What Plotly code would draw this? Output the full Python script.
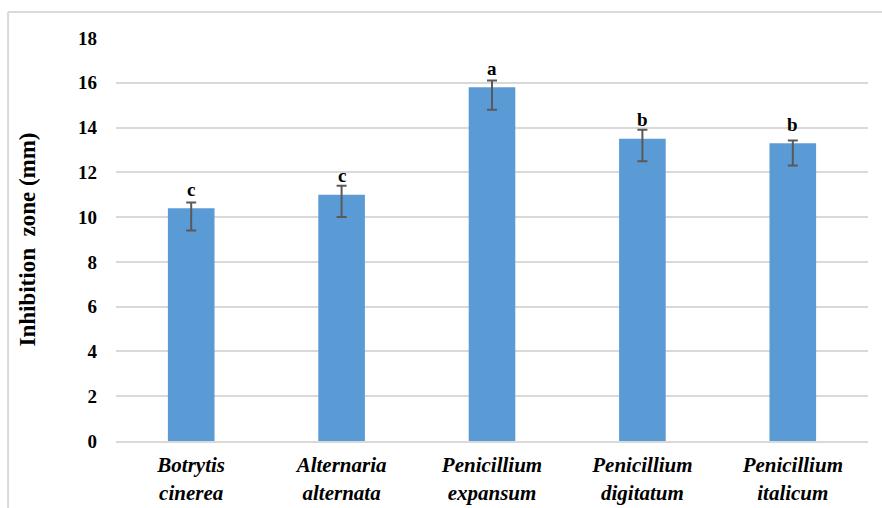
import plotly.graph_objects as go

# Fungal species tested and their mean inhibition zones
species = [
    "Botrytis<br>cinerea",
    "Alternaria<br>alternata",
    "Penicillium<br>expansum",
    "Penicillium<br>digitatum",
    "Penicillium<br>italicum",
]
inhibition_mm = [10.4, 11.0, 15.8, 13.5, 13.3]
err_plus = [0.25, 0.4, 0.3, 0.4, 0.12]
err_minus = [1.0, 1.0, 1.0, 1.0, 1.0]
letters = ["c", "c", "a", "b", "b"]
y_ticks = [0, 2, 4, 6, 8, 10, 12, 14, 16, 18]

serif = "Liberation Serif"

fig = go.Figure()
fig.add_trace(go.Bar(
    x=species,
    y=inhibition_mm,
    marker=dict(color="#5b9bd5", line=dict(width=0)),
    error_y=dict(
        type="data",
        symmetric=False,
        array=err_plus,
        arrayminus=err_minus,
        color="#595959",
        thickness=2,
        width=5,
    ),
    width=0.31,
))

# Significance letters above each bar
for sp, v, lt in zip(species, inhibition_mm, letters):
    fig.add_annotation(
        x=sp, y=v + 0.85, text="<b>" + lt + "</b>", showarrow=False,
        xref="x", yref="y", yanchor="middle",
        font=dict(family=serif, size=19, color="#000000"),
    )

# Outer frame (left and top edges)
fig.add_shape(type="line", xref="paper", yref="paper",
              x0=-0.1435, x1=-0.1435, y0=-0.17, y1=1.0645,
              line=dict(color="#d9d9d9", width=2))
fig.add_shape(type="line", xref="paper", yref="paper",
              x0=-0.1435, x1=1.02, y0=1.0645, y1=1.0645,
              line=dict(color="#d9d9d9", width=2))

tick_text = ["<b><i>" + s.replace("<br>", "</i></b><br><b><i>") + "</i></b>"
             for s in species]

fig.update_layout(
    width=882, height=508,
    margin=dict(l=116, r=14, t=38, b=67, autoexpand=False),
    plot_bgcolor="white", paper_bgcolor="white",
    font=dict(family=serif, color="#000000"),
    showlegend=False,
    xaxis=dict(
        showgrid=False,
        showline=True, linecolor="#d9d9d9", linewidth=2,
        ticks="",
        tickvals=species,
        ticktext=tick_text,
        tickfont=dict(family=serif, size=21, color="#000000"),
        ticklabelstandoff=4,
    ),
    yaxis=dict(
        range=[0, 18],
        tickvals=y_ticks,
        ticktext=["<b>%d</b>" % t for t in y_ticks],
        showgrid=True, gridcolor="#d9d9d9", gridwidth=1.5,
        zeroline=False,
        ticks="",
        tickfont=dict(family=serif, size=19, color="#000000"),
        ticklabelstandoff=18,
        title=dict(
            text="<b>Inhibition\u00a0\u00a0zone (mm)</b>",
            font=dict(family=serif, size=23, color="#000000"),
            standoff=35,
        ),
    ),
)

fig.write_html("out.html")
